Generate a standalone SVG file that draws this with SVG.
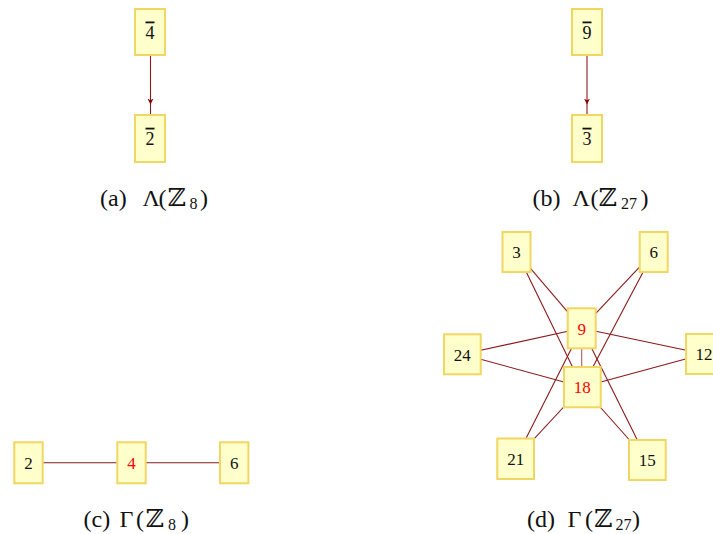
<svg xmlns="http://www.w3.org/2000/svg" width="713" height="534" viewBox="0 0 713 534">
<style>
.box{fill:#ffffcc;stroke:#f0d662;stroke-width:2}
.edge{stroke:#8b1a1a;stroke-width:1.1;fill:none}
.lbl{font-size:17px;text-anchor:middle;fill:#111}
.top{font-size:18px;text-decoration:overline}
.red{fill:#ff0000}
.cap{font-size:24px;fill:#111}
.z{font-size:25px}
.sub{font-size:16px}
</style>
<defs>
<marker id="arr" viewBox="0 0 10 10" refX="10" refY="5" markerWidth="6" markerHeight="10" markerUnits="userSpaceOnUse" orient="auto">
<path d="M0,0 L10,5 L0,10 L3,5 Z" fill="#8b0000"/>
</marker>
</defs>
<g id="connectors">
<path class="edge" d="M150.5,55 L150.5,104.5 L150.5,115" marker-mid="url(#arr)"/>
<path class="edge" d="M587,55 L587,104.5 L587,115" marker-mid="url(#arr)"/>
<line class="edge" x1="42" y1="462.7" x2="118" y2="462.7"/>
<line class="edge" x1="145" y1="462.7" x2="221" y2="462.7"/>
<line class="edge" x1="516.5" y1="252" x2="581.7" y2="328.3"/>
<line class="edge" x1="516.5" y1="252" x2="582.3" y2="387"/>
<line class="edge" x1="653.7" y1="252" x2="581.7" y2="328.3"/>
<line class="edge" x1="653.7" y1="252" x2="582.3" y2="387"/>
<line class="edge" x1="462.3" y1="354.3" x2="581.7" y2="328.3"/>
<line class="edge" x1="462.3" y1="354.3" x2="582.3" y2="387"/>
<line class="edge" x1="704" y1="354" x2="581.7" y2="328.3"/>
<line class="edge" x1="704" y1="354" x2="582.3" y2="387"/>
<line class="edge" x1="515.7" y1="458.7" x2="581.7" y2="328.3"/>
<line class="edge" x1="515.7" y1="458.7" x2="582.3" y2="387"/>
<line class="edge" x1="647.3" y1="460" x2="581.7" y2="328.3"/>
<line class="edge" x1="647.3" y1="460" x2="582.3" y2="387"/>
<line class="edge" x1="581.7" y1="348" x2="581.7" y2="367" stroke-opacity="0.7"/>
</g>
<g font-family="'Liberation Serif', 'Times New Roman', Times, 'DejaVu Serif', serif">
<g id="n4bar"><rect class="box" x="135" y="9" width="30" height="46"/><text class="lbl top" x="150" y="38.5">4</text></g>
<g id="n2bar"><rect class="box" x="135" y="115" width="30" height="47"/><text class="lbl top" x="150" y="144.7">2</text></g>
<g id="n9bar"><rect class="box" x="572" y="9" width="30" height="46"/><text class="lbl top" x="587" y="38.5">9</text></g>
<g id="n3bar"><rect class="box" x="572" y="115" width="30" height="47"/><text class="lbl top" x="587" y="144.7">3</text></g>
<g id="c2"><rect class="box" x="14.3" y="442.3" width="28.4" height="41"/><text class="lbl" x="28.5" y="468.8">2</text></g>
<g id="c4"><rect class="box" x="117.3" y="442.3" width="28.4" height="41"/><text class="lbl red" x="131.5" y="468.8">4</text></g>
<g id="c6"><rect class="box" x="220" y="442.3" width="28.4" height="41"/><text class="lbl" x="234.2" y="468.8">6</text></g>
<g id="d3"><rect class="box" x="502.5" y="232" width="28" height="40"/><text class="lbl" x="516.5" y="258.3">3</text></g>
<g id="d6"><rect class="box" x="639.7" y="232" width="28" height="40"/><text class="lbl" x="653.7" y="258.3">6</text></g>
<g id="d9"><rect class="box" x="567.7" y="308.3" width="28" height="40"/><text class="lbl red" x="581.7" y="334.6">9</text></g>
<g id="d24"><rect class="box" x="444" y="334.3" width="36.7" height="40"/><text class="lbl" x="462.3" y="360.6">24</text></g>
<g id="d12"><rect class="box" x="686" y="334" width="36.7" height="40"/><text class="lbl" x="704" y="360.3">12</text></g>
<g id="d18"><rect class="box" x="564" y="367" width="36.7" height="40.3"/><text class="lbl red" x="582.3" y="393.3">18</text></g>
<g id="d21"><rect class="box" x="497.3" y="438.5" width="36.7" height="40.5"/><text class="lbl" x="515.7" y="465">21</text></g>
<g id="d15"><rect class="box" x="629" y="440" width="36.7" height="40"/><text class="lbl" x="647.3" y="466.3">15</text></g>
<text class="cap" y="206"><tspan x="100">(a)</tspan><tspan x="142.5">Λ</tspan><tspan x="158.5">(</tspan><tspan class="z" x="167.5">ℤ</tspan><tspan class="sub" x="189.5" dy="3">8</tspan><tspan x="200" dy="-3">)</tspan></text>
<text class="cap" y="206"><tspan x="532.5">(b)</tspan><tspan x="572.5">Λ</tspan><tspan x="590.5">(</tspan><tspan class="z" x="598.5">ℤ</tspan><tspan class="sub" x="621" dy="3">27</tspan><tspan x="640.5" dy="-3">)</tspan></text>
<text class="cap" y="527"><tspan x="83.5">(c)</tspan><tspan x="119.5">Γ</tspan><tspan x="136">(</tspan><tspan class="z" x="145.5">ℤ</tspan><tspan class="sub" x="168" dy="3">8</tspan><tspan x="181" dy="-3">)</tspan></text>
<text class="cap" y="527"><tspan x="527">(d)</tspan><tspan x="567.5">Γ</tspan><tspan x="585">(</tspan><tspan class="z" x="594">ℤ</tspan><tspan class="sub" x="615.5" dy="3">27</tspan><tspan x="632" dy="-3">)</tspan></text>
</g>
</svg>
